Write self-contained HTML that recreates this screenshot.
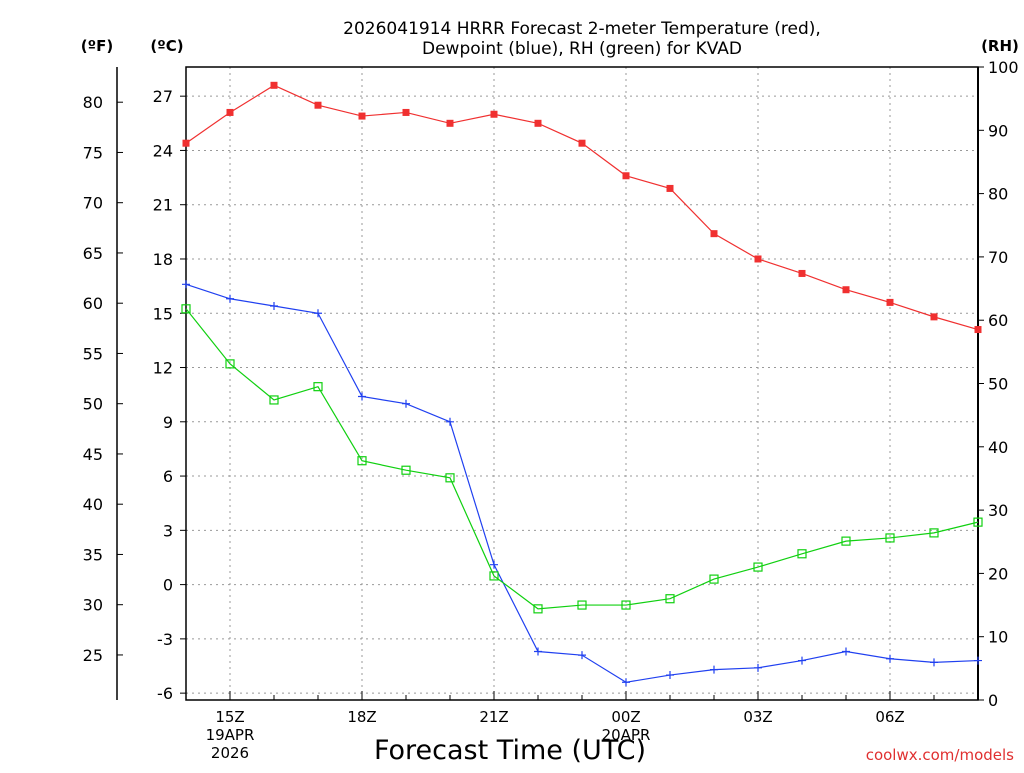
<!DOCTYPE html>
<html><head><meta charset="utf-8"><style>
body{margin:0;background:#fff;}
svg text{font-family:"DejaVu Sans","Liberation Sans",sans-serif;}
</style></head><body>
<svg id="chart" width="1024" height="768" xmlns="http://www.w3.org/2000/svg">
<rect width="1024" height="768" fill="#fff"/>
<text x="582" y="34" font-size="17" text-anchor="middle">2026041914 HRRR Forecast 2-meter Temperature (red),</text>
<text x="582" y="54" font-size="17" text-anchor="middle">Dewpoint (blue), RH (green) for KVAD</text>
<text x="97" y="51" font-size="15" font-weight="bold" text-anchor="middle">(ºF)</text>
<text x="167" y="51" font-size="15" font-weight="bold" text-anchor="middle">(ºC)</text>
<text x="1000" y="51" font-size="15" font-weight="bold" text-anchor="middle">(RH)</text>
<text x="510" y="759" font-size="27" text-anchor="middle">Forecast Time (UTC)</text>
<text x="1014" y="760" font-size="15" fill="#e03030" text-anchor="end">coolwx.com/models</text>
<g id="grid"></g><g id="axes"></g><g id="series"></g>
</svg>
<script>
const hours = [14,15,16,17,18,19,20,21,22,23,24,25,26,27,28,29,30,31,32];
const tempC = [24.4,26.1,27.6,26.5,25.9,26.1,25.5,26.0,25.5,24.4,22.6,21.9,19.4,18.0,17.2,16.3,15.6,14.8,14.1];
const dewC = [16.6,15.8,15.4,15.0,10.4,10.0,9.0,1.1,-3.7,-3.9,-5.4,-5.0,-4.7,-4.6,-4.2,-3.7,-4.1,-4.3,-4.2];
const rh = [61.8,53.1,47.4,49.5,37.8,36.3,35.1,19.6,14.4,15.0,15.0,16.0,19.1,21.0,23.1,25.1,25.6,26.4,28.1];
const cTicks = [-6,-3,0,3,6,9,12,15,18,21,24,27];
const fTicks = [25,30,35,40,45,50,55,60,65,70,75,80];
const rhTicks = [0,10,20,30,40,50,60,70,80,90,100];
const xTickHours = [15,18,21,24,27,30];
const xTickLabels = ["15Z","18Z","21Z","00Z","03Z","06Z"];
const X0=186,X1=978,Y0=67,Y1=700;
const xs=h=>X0+(h-14)/18*(X1-X0);
const yC=c=>584.6-c*18.09;
const yF=f=>yC((f-32)*5/9);
const yR=r=>Y1-r/100*(Y1-Y0);
const NS="http://www.w3.org/2000/svg";
function mk(tag,attrs,parent,txt){const e=document.createElementNS(NS,tag);for(const k in attrs)e.setAttribute(k,attrs[k]);if(txt!==undefined)e.textContent=txt;document.getElementById(parent).appendChild(e);return e;}
// frame
let e=mk('rect',{x:X0,y:Y0,width:X1-X0,height:Y1-Y0,fill:'none',stroke:'#000','stroke-width':1.5},'axes');


e=mk('line',{x1:X1,y1:Y0,x2:X1,y2:Y1,stroke:'#000','stroke-width':2},'axes');


e=mk('line',{x1:117,y1:Y0,x2:117,y2:Y1,stroke:'#000','stroke-width':1.5},'axes');


cTicks.forEach(c=>{const y=yC(c);
 e=mk('line',{x1:X0,y1:y,x2:X1,y2:y,stroke:'#999','stroke-dasharray':'2,4'},'grid');
 
 
 mk('line',{x1:X0-6,y1:y,x2:X0,y2:y,stroke:'#000'},'axes');
 e=mk('text',{x:173,y:y+6,'font-size':16,'text-anchor':'end'},'axes',String(c));
 
 
});
fTicks.forEach(f=>{const y=yF(f);
 mk('line',{x1:117,y1:y,x2:123,y2:y,stroke:'#000'},'axes');
 e=mk('text',{x:103,y:y+6,'font-size':16,'text-anchor':'end'},'axes',String(f));
 
 
});
rhTicks.forEach(r=>{const y=yR(r);
 mk('line',{x1:X1,y1:y,x2:X1+6,y2:y,stroke:'#000'},'axes');
 e=mk('text',{x:988,y:y+6,'font-size':16},'axes',String(r));
 
 
});
hours.forEach(h=>{mk('line',{x1:xs(h),y1:Y1,x2:xs(h),y2:Y1-5,stroke:'#000'},'axes');});
xTickHours.forEach((h,i)=>{const x=xs(h);
 e=mk('line',{x1:x,y1:Y0,x2:x,y2:Y1,stroke:'#999','stroke-dasharray':'2,4'},'grid');
 
 
 mk('line',{x1:x,y1:Y1,x2:x,y2:Y1-9,stroke:'#000'},'axes');
 e=mk('text',{x:x,y:722,'font-size':15,'text-anchor':'middle'},'axes',xTickLabels[i]);
 
 
});
[["19APR",xs(15),740],["2026",xs(15),758],["20APR",xs(24),740]].forEach(d=>{
 e=mk('text',{x:d[1],y:d[2],'font-size':15,'text-anchor':'middle'},'axes',d[0]);
 
 
});
function series(vals,yf,color,name,marker){
 const pts=vals.map((v,i)=>[xs(hours[i]),yf(v)]);
 e=mk('polyline',{points:pts.map(p=>p.join(',')).join(' '),fill:'none',stroke:color,'stroke-width':1.2},'series');
 
 
 pts.forEach(p=>{
  if(marker==='fill'){e=mk('rect',{x:p[0]-3.5,y:p[1]-3.5,width:7,height:7,fill:color},'series');}
  else if(marker==='open'){e=mk('rect',{x:p[0]-4,y:p[1]-4,width:8,height:8,fill:'none',stroke:color,'stroke-width':1.2},'series');}
  else{e=mk('path',{d:`M${p[0]-4},${p[1]}h8M${p[0]},${p[1]-4}v8`,stroke:color,'stroke-width':1.2},'series');}
  
  
 });
}
series(tempC,yC,'#f03030','temperature','fill');
series(dewC,yC,'#2040f0','dewpoint','plus');
series(rh,yR,'#10d010','rh','open');
</script>
</body></html>
